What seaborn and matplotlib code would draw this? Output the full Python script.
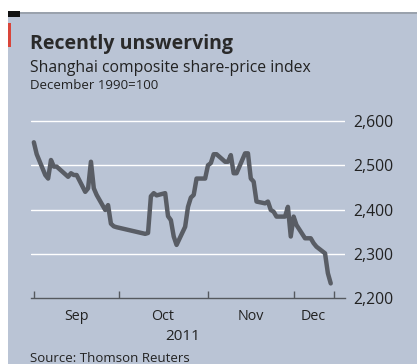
import matplotlib
matplotlib.use("Agg")
import matplotlib.pyplot as plt
import matplotlib.dates as mdates
from matplotlib.patches import Rectangle
import seaborn as sns
import pandas as pd

# ---- data ----
dates = [
    "2011-09-01", "2011-09-02", "2011-09-05", "2011-09-06", "2011-09-07", "2011-09-08",
    "2011-09-09", "2011-09-13", "2011-09-14", "2011-09-15", "2011-09-16", "2011-09-19",
    "2011-09-20", "2011-09-21", "2011-09-22", "2011-09-23", "2011-09-26", "2011-09-27",
    "2011-09-28", "2011-09-29", "2011-09-30",
    "2011-10-10", "2011-10-11", "2011-10-12", "2011-10-13", "2011-10-14", "2011-10-17",
    "2011-10-18", "2011-10-19", "2011-10-20", "2011-10-21", "2011-10-24", "2011-10-25",
    "2011-10-26", "2011-10-27", "2011-10-28", "2011-10-31",
    "2011-11-01", "2011-11-02", "2011-11-03", "2011-11-04", "2011-11-07", "2011-11-08",
    "2011-11-09", "2011-11-10", "2011-11-11", "2011-11-14", "2011-11-15", "2011-11-16",
    "2011-11-17", "2011-11-18", "2011-11-21", "2011-11-22", "2011-11-23", "2011-11-24",
    "2011-11-25", "2011-11-28", "2011-11-29", "2011-11-30",
    "2011-12-01", "2011-12-02", "2011-12-05", "2011-12-06", "2011-12-07", "2011-12-08",
    "2011-12-09", "2011-12-12", "2011-12-13", "2011-12-14",
]
index_values = [
    2552, 2525, 2478, 2470, 2512, 2497,
    2497, 2474, 2482, 2478, 2478, 2440,
    2448, 2508, 2448, 2433, 2399, 2410,
    2368, 2362, 2360,
    2345, 2347, 2430, 2437, 2432, 2437,
    2385, 2376, 2339, 2320, 2361, 2406,
    2427, 2433, 2470, 2470,
    2500, 2505, 2525, 2525, 2508, 2508,
    2523, 2482, 2482, 2527, 2527, 2470,
    2463, 2418, 2414, 2418, 2399, 2395,
    2384, 2384, 2406, 2339,
    2384, 2365, 2335, 2335, 2335, 2324,
    2316, 2301, 2256, 2233,
]
y_ticks = [2200, 2300, 2400, 2500, 2600]
y_tick_labels = ["2,200", "2,300", "2,400", "2,500", "2,600"]
month_labels = ["Sep", "Oct", "Nov", "Dec"]
month_label_dates = ["2011-09-16", "2011-10-16", "2011-11-16", "2011-12-08"]
tick_dates = ["2011-09-01", "2011-10-01", "2011-11-01", "2011-12-01", "2011-12-15"]

title = "Recently unswerving"
subtitle = "Shanghai composite share-price index"
unit_note = "December 1990=100"
year_label = "2011"
source = "Source: Thomson Reuters"

df = pd.DataFrame({"date": pd.to_datetime(dates), "value": index_values})

sns.set_theme(style="white")
plt.rcParams["font.family"] = ["Open Sans", "DejaVu Sans"]

W, H = 417, 364
fig = plt.figure(figsize=(W / 100, H / 100), dpi=100)
fig.patch.set_facecolor("white")

bg = "#bac4d5"
fig.patches.append(Rectangle((8 / W, 0), 1, 1 - 12 / H, transform=fig.transFigure,
                             facecolor=bg, edgecolor="none", zorder=-3))
fig.patches.append(Rectangle((8 / W, 1 - 17 / H), 12 / W, 6 / H, transform=fig.transFigure,
                             facecolor="#111111", edgecolor="none", zorder=-2))
fig.patches.append(Rectangle((20 / W, 1 - 14 / H), 1, 2 / H, transform=fig.transFigure,
                             facecolor="#9aa2ad", edgecolor="none", zorder=-2))
fig.patches.append(Rectangle((8 / W, 1 - 47 / H), 2.5 / W, 24 / H, transform=fig.transFigure,
                             facecolor="#d9453a", edgecolor="none", zorder=-2))

ax = fig.add_axes([31 / W, 1 - 298 / H, (345 - 31) / W, (298 - 112.2) / H])
ax.set_zorder(5)
ax.set_facecolor("none")

sns.lineplot(data=df, x="date", y="value", ax=ax, color="#595d65", linewidth=3.2, zorder=3)

ax.set_xlim(pd.Timestamp("2011-08-31"), pd.Timestamp("2011-12-19"))
ax.set_ylim(2200, 2620)

for s in ["top", "left", "right"]:
    ax.spines[s].set_visible(False)
ax.spines["bottom"].set_color("#55595f")
ax.spines["bottom"].set_linewidth(1.0)

ax.set_yticks(y_ticks)
ax.set_yticklabels(y_tick_labels)
ax.yaxis.tick_right()
ax.tick_params(axis="y", length=0, pad=6, labelsize=11.3, labelcolor="#222222")
for yv in y_ticks[1:]:
    ax.axhline(yv, color="white", linewidth=1.0, zorder=1)

ax.set_xticks(pd.to_datetime(tick_dates))
ax.set_xticklabels([""] * len(tick_dates))
ax.tick_params(axis="x", direction="in", length=5, width=1, color="#55595f", bottom=True)
ax.set_xlabel("")
ax.set_ylabel("")

xt = ax.get_xaxis_transform()
for lab, d in zip(month_labels, month_label_dates):
    ax.text(mdates.date2num(pd.Timestamp(d)), -0.10, lab, transform=xt,
            ha="center", va="center", fontsize=10.3, color="#222222")

fig.text(183 / W, 1 - 337 / H, year_label, ha="center", va="center", fontsize=11, color="#222222")
fig.text(30 / W, 1 - 49 / H, title, ha="left", va="baseline", fontsize=14,
         fontweight="bold", color="#2a2a2a")
fig.text(30 / W, 1 - 72 / H, subtitle, ha="left", va="baseline", fontsize=11.3, color="#222222")
fig.text(30 / W, 1 - 89 / H, unit_note, ha="left", va="baseline", fontsize=9.5, color="#222222")
fig.text(30 / W, 1 - 362 / H, source, ha="left", va="baseline", fontsize=9.5, color="#222222")

fig.savefig("out.png", dpi=100)
